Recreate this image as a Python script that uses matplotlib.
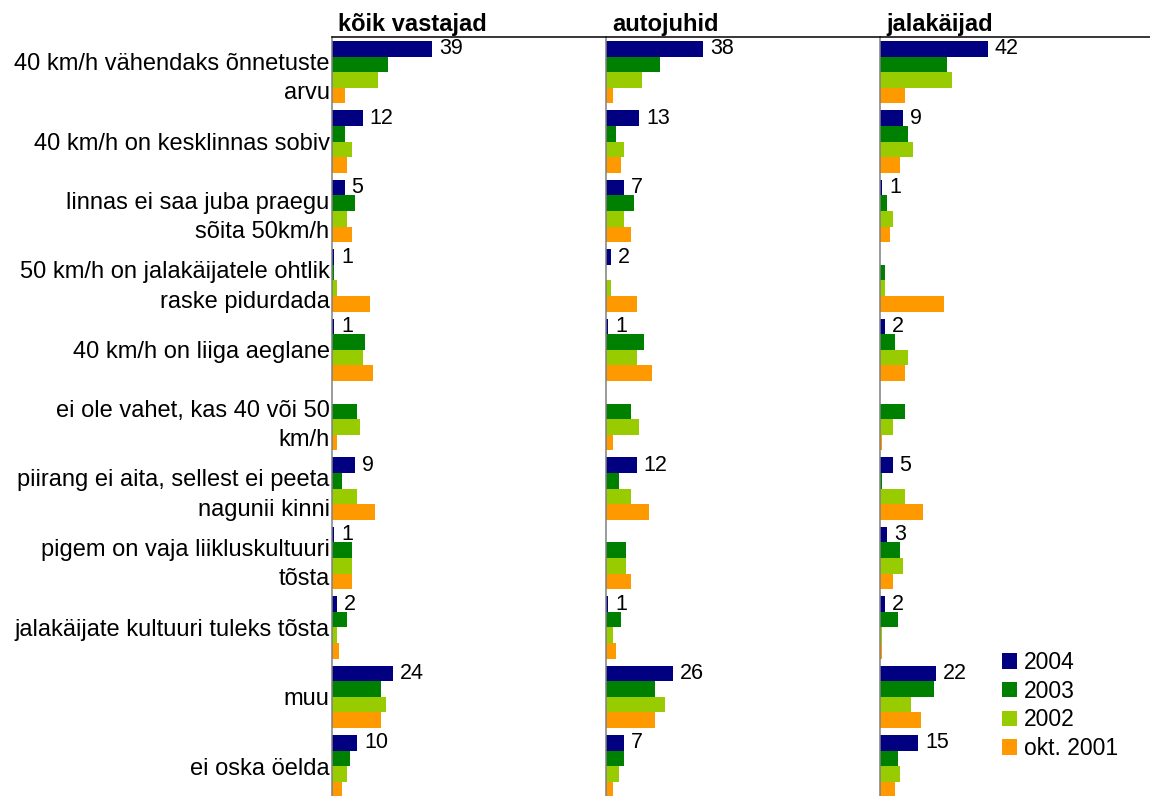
import numpy as np
import matplotlib
matplotlib.use('Agg')
import matplotlib.pyplot as plt

plt.rcParams['font.family'] = ['Liberation Sans', 'DejaVu Sans']

# answers (rows of the chart, top to bottom)
categories = [
    "40 km/h vähendaks õnnetuste\narvu",
    "40 km/h on kesklinnas sobiv",
    "linnas ei saa juba praegu\nsõita 50km/h",
    "50 km/h on jalakäijatele ohtlik\nraske pidurdada",
    "40 km/h on liiga aeglane",
    "ei ole vahet, kas 40 või 50\nkm/h",
    "piirang ei aita, sellest ei peeta\nnagunii kinni",
    "pigem on vaja liikluskultuuri\ntõsta",
    "jalakäijate kultuuri tuleks tõsta",
    "muu",
    "ei oska öelda",
]
panel_titles = ['kõik vastajad', 'autojuhid', 'jalakäijad']
series = ['2004', '2003', '2002', 'okt. 2001']
colors = ['#000080', '#008000', '#99CC00', '#FF9900']

# kõik vastajad
koik_2004 = [39, 12, 5, 1, 1, 0, 9, 1, 2, 24, 10]
koik_2003 = [22, 5, 9, 1, 13, 10, 4, 8, 6, 19, 7]
koik_2002 = [18, 8, 6, 2, 12, 11, 10, 8, 2, 21, 6]
koik_2001 = [5, 6, 8, 15, 16, 2, 17, 8, 3, 19, 4]

# autojuhid
auto_2004 = [38, 13, 7, 2, 1, 0, 12, 0, 1, 26, 7]
auto_2003 = [21, 4, 11, 0, 15, 10, 5, 8, 6, 19, 7]
auto_2002 = [14, 7, 7, 2, 12, 13, 10, 8, 3, 23, 5]
auto_2001 = [3, 6, 10, 12, 18, 3, 17, 10, 4, 19, 3]

# jalakäijad
jala_2004 = [42, 9, 1, 0, 2, 0, 5, 3, 2, 22, 15]
jala_2003 = [26, 11, 3, 2, 6, 10, 1, 8, 7, 21, 7]
jala_2002 = [28, 13, 5, 2, 11, 5, 10, 9, 1, 12, 8]
jala_2001 = [10, 8, 4, 25, 10, 1, 17, 5, 1, 16, 6]

panels = [
    [koik_2004, koik_2003, koik_2002, koik_2001],
    [auto_2004, auto_2003, auto_2002, auto_2001],
    [jala_2004, jala_2003, jala_2002, jala_2001],
]

# layout in pixels
W, H = 1150, 796
lefts = [331.7, 605.7, 879.7]
rights = [605.7, 879.7, 1150]
top_px = 37
px_per_unit = 2.57
pitch = 69.4
bar_h = 0.225

fig = plt.figure(figsize=(W / 100, H / 100), dpi=100)
y = np.arange(len(categories))
ytop = -0.45 - 4 / pitch
ybot = ytop + (H - top_px) / pitch

handles = []
for p, (title, data) in enumerate(zip(panel_titles, panels)):
    l, r = lefts[p], rights[p]
    ax = fig.add_axes([l / W, 0, (r - l) / W, 1 - top_px / H])
    for j, vals in enumerate(data):
        b = ax.barh(y + (j - 1.5) * bar_h, vals, height=bar_h,
                    color=colors[j], label=series[j])
        if p == 0:
            handles.append(b)
    # value labels for 2004
    for i, v in enumerate(data[0]):
        if v > 0:
            ax.annotate(str(v), xy=(v, y[i] - 1.5 * bar_h), xytext=(5, 0),
                        textcoords='offset points', va='center', ha='left',
                        fontsize=15.5)
    ax.set_xlim(0, (r - l) / px_per_unit)
    ax.set_ylim(ybot, ytop)
    ax.set_xticks([])
    for s in ['right', 'bottom']:
        ax.spines[s].set_visible(False)
    ax.spines['left'].set_color('#808080')
    ax.spines['left'].set_linewidth(1.1)
    ax.spines['top'].set_color('black')
    ax.spines['top'].set_linewidth(1.1)
    ax.annotate(title, xy=(0, 1), xycoords='axes fraction', xytext=(4.5, 4.5),
                textcoords='offset points', va='baseline', ha='left',
                fontsize=17, fontweight='bold')
    if p == 0:
        ax.set_yticks(y)
        ax.set_yticklabels(categories, fontsize=17)
        ax.tick_params(axis='y', length=0, pad=1.5)
        for t in ax.get_yticklabels():
            t.set_linespacing(1.45)
    else:
        ax.set_yticks([])

fig.legend(handles, series, loc='upper left',
           bbox_to_anchor=(1002 / W, 1 - 651 / H), frameon=False,
           borderpad=0, borderaxespad=0, handlelength=0.65, handleheight=0.65,
           handletextpad=0.3, labelspacing=0.25, fontsize=16.5)

fig.savefig('out.png', dpi=100)
